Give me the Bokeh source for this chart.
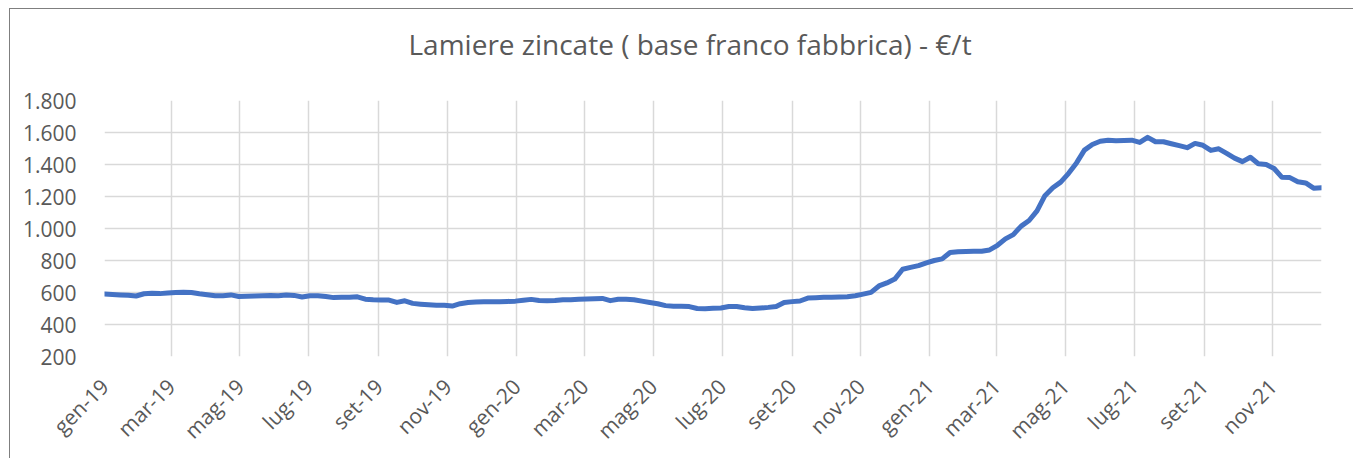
import pandas as pd
from bokeh.plotting import figure
from bokeh.models import Range1d, FixedTicker, CustomJSTickFormatter, ColumnDataSource
from bokeh.embed import file_html
from bokeh.resources import INLINE

# weekly prices, €/t, from the first week of Jan 2019 to mid Dec 2021
prices = [
    590, 588, 585, 583, 578, 592, 595, 593, 597, 600,
    602, 600, 592, 586, 580, 580, 585, 575, 576, 578,
    580, 582, 580, 584, 582, 572, 580, 580, 575, 568,
    570, 570, 573, 558, 554, 553, 553, 538, 548, 532,
    527, 523, 520, 520, 515, 530, 538, 541, 542, 542,
    542, 544, 546, 552, 557, 550, 548, 550, 555, 554,
    558, 559, 561, 563, 549, 558, 558, 555, 546, 538,
    530, 518, 514, 514, 512, 500, 499, 501, 503, 512,
    512, 505, 500, 503, 507, 513, 538, 543, 547, 565,
    567, 570, 570, 572, 574, 580, 590, 601, 641, 660,
    684, 745, 757, 768, 785, 800, 810, 850, 855, 857,
    858, 858, 866, 895, 935, 962, 1015, 1050, 1110, 1205,
    1255, 1290, 1345, 1410, 1490, 1525, 1545, 1552, 1548, 1550,
    1552, 1538, 1570, 1542, 1542, 1530, 1518, 1505, 1532, 1520,
    1488, 1498, 1470, 1440, 1418, 1445, 1405, 1400, 1375, 1320,
    1318, 1292, 1285, 1252, 1255,
]
dates = list(pd.date_range("2019-01-01", periods=len(prices), freq="7D"))

tick_dates = ["2019-01-01", "2019-03-01", "2019-05-01", "2019-07-01", "2019-09-01", "2019-11-01",
              "2020-01-01", "2020-03-01", "2020-05-01", "2020-07-01", "2020-09-01", "2020-11-01",
              "2021-01-01", "2021-03-01", "2021-05-01", "2021-07-01", "2021-09-01", "2021-11-01"]
tick_labels = ["gen-19", "mar-19", "mag-19", "lug-19", "set-19", "nov-19",
               "gen-20", "mar-20", "mag-20", "lug-20", "set-20", "nov-20",
               "gen-21", "mar-21", "mag-21", "lug-21", "set-21", "nov-21"]
y_ticks = [200, 400, 600, 800, 1000, 1200, 1400, 1600, 1800]
y_labels = ["200", "400", "600", "800", "1.000", "1.200", "1.400", "1.600", "1.800"]
title_text = "Lamiere zincate ( base franco fabbrica) - €/t"

def ms(d):
    return pd.Timestamp(d).value / 1e6

tick_ms = [ms(d) for d in tick_dates]

source = ColumnDataSource(dict(x=dates, y=prices))

p = figure(width=1344, height=450, output_backend="svg", toolbar_location=None,
           x_axis_type="datetime",
           x_range=Range1d(ms(dates[0]), ms(dates[-1])),
           y_range=Range1d(200, 1800),
           min_border_left=94, min_border_right=33, min_border_top=91, min_border_bottom=103,
           background_fill_color="white", border_fill_color="white")
p.outline_line_color = None
p.styles = {"border-top": "1px solid #7f7f7f", "border-left": "1px solid #7f7f7f",
            "margin-left": "9px", "margin-top": "8px"}

# second (blank) line lifts the title away from the plot frame
p.title.text = title_text + "\n "
p.title.text_font = "Open Sans"
p.title.text_font_size = "28px"
p.title.text_font_style = "normal"
p.title.text_color = "#595959"
p.title.align = "left"
p.title.offset = 304
p.title.standoff = 0

p.line("x", "y", source=source, line_color="#4472C4", line_width=5, line_join="round", line_cap="round")

xa = p.xaxis[0]
xa.ticker = FixedTicker(ticks=tick_ms)
xa.formatter = CustomJSTickFormatter(args=dict(tvals=tick_ms, tlabels=tick_labels),
                                     code="const i = tvals.indexOf(tick); return i >= 0 ? tlabels[i] : '';")
xa.major_label_orientation = 0.785398
ya = p.yaxis[0]
ya.ticker = FixedTicker(ticks=y_ticks)
ya.formatter = CustomJSTickFormatter(args=dict(yvals=y_ticks, ylabs=y_labels),
                                     code="const i = yvals.indexOf(tick); return i >= 0 ? ylabs[i] : String(tick);")

for ax in (xa, ya):
    ax.axis_line_color = None
    ax.major_tick_line_color = None
    ax.minor_tick_line_color = None
    ax.major_label_text_font = "Open Sans"
    ax.major_label_text_font_size = "21px"
    ax.major_label_text_color = "#595959"
ya.major_label_standoff = 22
xa.major_label_standoff = 20

for g in (p.xgrid[0], p.ygrid[0]):
    g.grid_line_color = "#d9d9d9"
    g.grid_line_width = 1.5
p.xgrid[0].ticker = xa.ticker
p.ygrid[0].ticker = ya.ticker

open("out.html", "w").write(file_html(p, INLINE))
